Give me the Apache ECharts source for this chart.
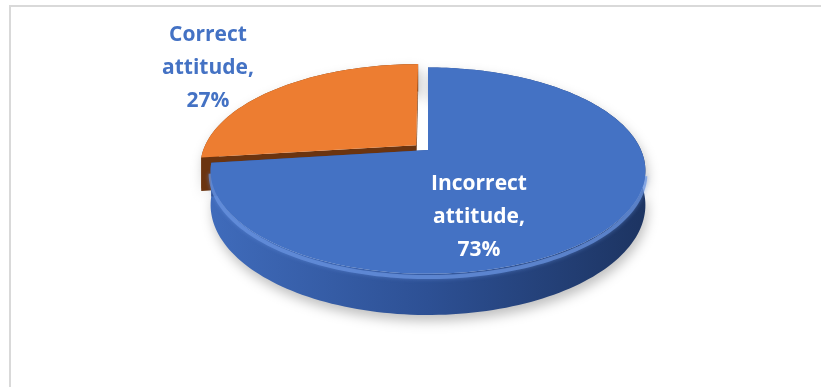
<!DOCTYPE html>
<html>
<head>
<meta charset="utf-8">
<script src="https://cdn.jsdelivr.net/npm/echarts@6/dist/echarts.min.js"></script>
<style>
  html, body { margin: 0; padding: 0; background: #ffffff; }
  #chart { width: 821px; height: 387px; }
</style>
</head>
<body>
<div id="chart"></div>
<script>
// Survey result: share of respondents by attitude
const categories = ['Incorrect attitude', 'Correct attitude'];
const shares = [73, 27];

// Tilted disc geometry (pixels) with a mild perspective factor
const disc = { cx: 428, cy: 150, rx: 213, ry: 99, tilt: 0.2, depth: 33 };

const sliceLook = [
  {
    top: '#4472c4', wall: ['#406cbc', '#2d5094', '#1c3360'], edge: '#2a4c8f',
    explode: 0, rim: 'rgba(105,148,225,0.7)',
    label: { dx: 51, dy: 67, color: '#ffffff' }
  },
  {
    top: '#ed7d31', wall: ['#7c3c10', '#6b3410', '#55290c'], edge: '#6b3410',
    explode: 0.075, rim: null,
    label: { dx: -220, dy: -82, color: '#4472c4' }
  }
];

const total = shares.reduce((a, b) => a + b, 0);

function project(u, v, h) {
  const k = 1 / (1 - disc.tilt * v);
  return [disc.cx + disc.rx * u * k, disc.cy + (disc.ry * v + h * disc.depth) * k];
}

function renderSlice(params, api) {
  const i = params.dataIndex;
  const value = api.value(0);
  let before = 0;
  for (let j = 0; j < i; j++) before += shares[j];
  const a0 = before / total * 2 * Math.PI;
  const a1 = (before + value) / total * 2 * Math.PI;
  const look = sliceLook[i];
  const mid = (a0 + a1) / 2;
  const ou = look.explode * Math.sin(mid);
  const ov = -look.explode * Math.cos(mid);

  const n = Math.max(6, Math.ceil((a1 - a0) / (2 * Math.PI) * 240));
  const topArc = [], botArc = [], rimPts = [];
  for (let s = 0; s <= n; s++) {
    const a = a0 + (a1 - a0) * s / n;
    const u = Math.sin(a) + ou, v = -Math.cos(a) + ov;
    topArc.push(project(u, v, 0));
    botArc.push(project(u, v, 1));
    if (-Math.cos(a) > 0.2) rimPts.push(project(u, v, 0.08));
  }
  const vTop = project(ou, ov, 0);
  const vBot = project(ou, ov, 1);
  const base = Math.round((-Math.cos(mid) + 1) * 10) * 10;

  const wallFill = {
    type: 'linear', global: true,
    x: disc.cx - disc.rx * 1.05, y: 0, x2: disc.cx + disc.rx * 1.05, y2: 0,
    colorStops: [
      { offset: 0, color: look.wall[0] },
      { offset: 0.5, color: look.wall[1] },
      { offset: 1, color: look.wall[2] }
    ]
  };

  const children = [
    {
      type: 'polygon', z2: base,
      shape: { points: topArc.concat(botArc.slice().reverse()) },
      style: {
        fill: wallFill,
        shadowBlur: 12, shadowOffsetY: 6, shadowOffsetX: 2,
        shadowColor: 'rgba(0,0,0,0.25)'
      }
    },
    {
      type: 'polygon', z2: base + 1,
      shape: { points: [vTop, topArc[0], botArc[0], vBot] },
      style: { fill: look.edge }
    },
    {
      type: 'polygon', z2: base + 1,
      shape: { points: [vTop, topArc[n], botArc[n], vBot] },
      style: { fill: look.edge }
    }
  ];
  if (look.rim && rimPts.length > 1) {
    // soft light band along the upper lip of the front wall
    children.push({
      type: 'polyline', z2: base + 2,
      shape: { points: rimPts },
      style: { stroke: look.rim, lineWidth: 4, fill: null, shadowBlur: 4, shadowColor: look.rim }
    });
  }
  children.push({
    type: 'polygon', z2: base + 3,
    shape: { points: [vTop].concat(topArc) },
    style: { fill: look.top }
  });
  children.push({
    type: 'text', z2: 1000,
    x: disc.cx + look.label.dx, y: disc.cy + look.label.dy,
    style: {
      text: categories[i].split(' ').join('\n') + ',\n' + value + '%',
      fill: look.label.color,
      font: 'bold 21px "Open Sans"',
      align: 'center', verticalAlign: 'middle', lineHeight: 33
    }
  });
  return { type: 'group', children: children };
}

const chart = echarts.init(document.getElementById('chart'), null, { renderer: 'canvas' });
chart.setOption({
  animation: false,
  backgroundColor: '#ffffff',
  graphic: [{
    type: 'rect', silent: true,
    shape: { x: 10, y: 6, width: 840, height: 400 },
    style: { fill: 'none', stroke: '#d9d9d9', lineWidth: 2 }
  }],
  series: [{
    type: 'custom',
    coordinateSystem: 'none',
    renderItem: renderSlice,
    data: shares.map((v, i) => ({ name: categories[i], value: v }))
  }]
});
</script>
</body>
</html>
